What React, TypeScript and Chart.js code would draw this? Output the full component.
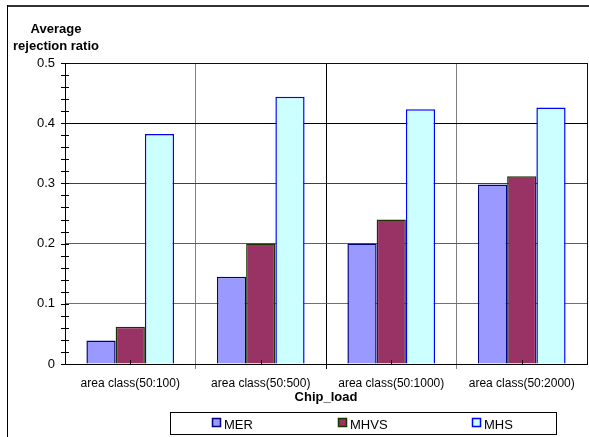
import React, { useEffect, useRef } from 'react';
import { Chart, registerables } from 'chart.js';

Chart.register(...registerables);

const categories = ['area class(50:100)', 'area class(50:500)', 'area class(50:1000)', 'area class(50:2000)'];
const seriesNames = ['MER', 'MHVS', 'MHS'];
const merValues = [0.039, 0.145, 0.2, 0.298];
const mhvsValues = [0.062, 0.2, 0.24, 0.312];
const mhsValues = [0.382, 0.444, 0.423, 0.426];
const yTickValues = [0, 0.1, 0.2, 0.3, 0.4, 0.5];
const yMinorStep = 0.02;
const yTitleLines = ['Average', 'rejection ratio'];
const xTitle = 'Chip_load';

const fillColors = ['#9999FF', '#993366', '#CCFFFF'];
const borderColors = ['#000080', '#1A3300', '#0000FF'];
const FONT = '"Liberation Sans", Arial, sans-serif';

const decorPlugin = {
  id: 'decor',
  afterDraw(chart: any) {
    const ctx = chart.ctx as CanvasRenderingContext2D;
    const { left, right, top, bottom } = chart.chartArea;
    const ys = chart.scales.y;
    const xs = chart.scales.x;
    ctx.save();
    // right border of plot
    ctx.strokeStyle = '#000080';
    ctx.lineWidth = 1;
    ctx.beginPath();
    ctx.moveTo(Math.round(right) + 0.5, top);
    ctx.lineTo(Math.round(right) + 0.5, bottom);
    ctx.stroke();
    // y ticks crossing the axis (major + minor)
    ctx.strokeStyle = '#000';
    const ymax = yTickValues[yTickValues.length - 1];
    const n = Math.round(ymax / yMinorStep);
    for (let k = 0; k <= n; k++) {
      const py = Math.round(ys.getPixelForValue(k * yMinorStep)) + 0.5;
      ctx.beginPath();
      ctx.moveTo(left - 4, py);
      ctx.lineTo(left + 4, py);
      ctx.stroke();
    }
    // x center ticks pointing up
    for (let i = 0; i < categories.length; i++) {
      const px = Math.round(xs.getPixelForValue(i)) + 0.5;
      ctx.beginPath();
      ctx.moveTo(px, bottom);
      ctx.lineTo(px, bottom - 4);
      ctx.stroke();
    }
    // y title
    ctx.fillStyle = '#000';
    ctx.font = 'bold 13px ' + FONT;
    ctx.textAlign = 'center';
    ctx.textBaseline = 'alphabetic';
    ctx.fillText(yTitleLines[0], 56, 33);
    ctx.fillText(yTitleLines[1], 56, 50);
    // x title
    ctx.fillText(xTitle, (left + right) / 2, 401);
    // legend
    ctx.strokeStyle = '#000';
    ctx.lineWidth = 1;
    ctx.strokeRect(170.5, 412.5, 386, 22);
    const lx = [212, 338, 472];
    ctx.font = '13px ' + FONT;
    ctx.textAlign = 'left';
    for (let i = 0; i < seriesNames.length; i++) {
      ctx.fillStyle = fillColors[i];
      ctx.fillRect(lx[i], 418, 9, 9);
      ctx.strokeStyle = borderColors[i];
      ctx.lineWidth = 1.5;
      ctx.strokeRect(lx[i] + 0.5, 418.5, 8, 8);
      ctx.fillStyle = '#000';
      ctx.fillText(seriesNames[i], lx[i] + 12, 428.5);
    }
    // outer frame
    ctx.fillStyle = '#333';
    ctx.fillRect(7, 5, 582, 2);
    ctx.fillStyle = '#000';
    ctx.fillRect(7, 5, 1, 432);
    ctx.restore();
  },
};

export default function App() {
  const ref = useRef<HTMLCanvasElement>(null);
  useEffect(() => {
    if (!ref.current) return;
    const series = [merValues, mhvsValues, mhsValues];
    const chart = new Chart(ref.current, {
      type: 'bar',
      data: {
        labels: categories,
        datasets: series.map((d, i) => ({
          label: seriesNames[i],
          data: d,
          backgroundColor: fillColors[i],
          borderColor: borderColors[i],
          borderWidth: 1.5,
          barPercentage: 1,
          categoryPercentage: 0.672,
        })),
      },
      options: {
        animation: false,
        responsive: false,
        devicePixelRatio: 1,
        layout: { padding: { top: 63, right: 2, left: 0, bottom: 0 } },
        plugins: { legend: { display: false }, title: { display: false }, tooltip: { enabled: false } },
        scales: {
          x: {
            afterFit: (s: any) => { s.height = 73; },
            grid: {
              offset: true,
              drawTicks: true,
              tickLength: 5,
              color: (c: any) => {
                const i = c.index;
                if (i === undefined || i === 0) return 'rgba(0,0,0,0)';
                if (i === 2) return '#000';
                return '#808080';
              },
            },
            border: { display: true, color: '#000', width: 1 },
            ticks: { color: '#000', font: { family: FONT, size: 12 }, padding: 7, maxRotation: 0, autoSkip: false },
          },
          y: {
            min: 0,
            max: 0.5,
            afterFit: (s: any) => { s.width = 65; },
            afterBuildTicks: (s: any) => { s.ticks = yTickValues.map((v) => ({ value: v })); },
            grid: {
              drawTicks: false,
              color: (c: any) => {
                const v = Math.round((c.tick ? c.tick.value : 0) * 10);
                const m: Record<number, string> = { 0: '#000', 1: '#707070', 2: '#606060', 3: '#404040', 4: '#000', 5: '#000080' };
                return m[v] || '#000';
              },
            },
            border: { display: true, color: '#000', width: 1 },
            ticks: {
              color: '#000',
              font: { family: FONT, size: 13 },
              padding: 10,
              autoSkip: false,
              callback: (v: any) => String(Math.round(Number(v) * 10) / 10),
            },
          },
        },
      },
      plugins: [decorPlugin],
    });
    return () => chart.destroy();
  }, []);
  return (
    <div style={{ position: 'absolute', left: 0, top: 0, width: 589, height: 437, background: '#fff' }}>
      <canvas ref={ref} width={589} height={437} style={{ display: 'block', width: 589, height: 437 }} />
    </div>
  );
}
